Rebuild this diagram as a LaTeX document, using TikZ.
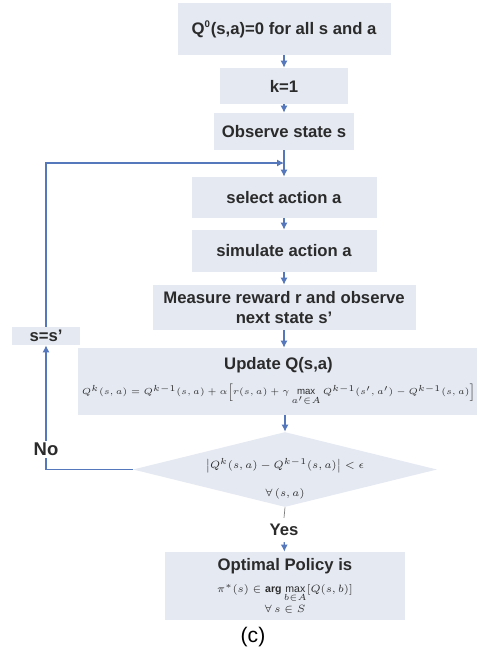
\documentclass[tikz,border=0pt]{standalone}
\usepackage{amsmath}
\usepackage{xcolor}
\usepackage{fontspec}
\setmainfont{Liberation Sans}
\usetikzlibrary{shapes.geometric, arrows.meta}
\definecolor{boxfill}{HTML}{E4E9F2}
\definecolor{flowline}{HTML}{5577BB}
\definecolor{boxtext}{HTML}{2B2B2B}

\begin{document}
\begin{tikzpicture}[
        yscale=1.0, xscale=1.0,
        stage/.style={font=\fontsize{9.5}{11.5}\selectfont\bfseries, text=boxtext, fill=boxfill, draw=none, align=center, inner sep=2pt},
        test/.style={shape=diamond, fill=boxfill, draw=none, inner sep=0pt, aspect=4, font=\fontsize{6}{7}\selectfont, text=boxtext},
        flow/.style={draw=flowline, semithick, -{Latex[length=1.4mm, width=1.4mm]}},
        wire/.style={draw=gray, thin},
        label/.style={font=\fontsize{9.5}{11.5}\selectfont\bfseries, text=boxtext}
    ]
    \useasboundingbox (0,0) rectangle (9.54,-13.1);

    % Main chain
    \node[stage, minimum width=4.26cm, minimum height=1.04cm] (init) at (5.68,-0.58) {Q\textsuperscript{\fontsize{5.5}{6}\selectfont 0}(s,a)=0 for all s and a};
    \node[stage, minimum width=2.56cm, minimum height=0.72cm] (kone) at (5.68,-1.72) {k=1};
    \node[stage, minimum width=2.80cm, minimum height=0.74cm] (observe) at (5.68,-2.63) {Observe state s};
    \node[stage, minimum width=3.70cm, minimum height=0.82cm] (select) at (5.68,-3.95) {select action a};
    \node[stage, minimum width=3.70cm, minimum height=0.84cm] (simulate) at (5.68,-5.02) {simulate action a};
    \node[stage, minimum width=5.26cm, minimum height=0.90cm] (measure) at (5.68,-6.15) {Measure reward r and observe\\next state s'};
    \node[stage, minimum width=7.94cm, minimum height=1.34cm] (update) at (5.57,-7.63) {Update Q(s,a)\\[3pt]
        {\fontsize{5.5}{7}\selectfont\mdseries $Q^{k}(s,a)=Q^{k-1}(s,a)+\alpha\Big[r(s,a)+\gamma\max\limits_{a'\in A}Q^{k-1}(s',a')-Q^{k-1}(s,a)\Big]$}};
    \node[test, minimum width=6.08cm, minimum height=1.50cm] (check) at (5.70,-9.39)
        {\raisebox{-0.25cm}[0pt][0pt]{\begin{tabular}{@{}c@{}}$\big|Q^{k}(s,a)-Q^{k-1}(s,a)\big|<\epsilon$\\[9pt]$\forall\,(s,a)$\end{tabular}}};
    \node[label] (yes) at (5.68,-10.60) {Yes};
    \node[stage, minimum width=4.80cm, minimum height=1.36cm] (optimal) at (5.70,-11.72) {Optimal Policy is\\[1pt]
        {\fontsize{6}{8}\selectfont\mdseries $\pi^{*}(s)\in\mathbf{arg}\max\limits_{b\in A}[Q(s,b)]$}\\
        {\fontsize{6}{7}\selectfont\mdseries $\forall\,s\in S$}};

    % Loop back
    \node[stage, minimum width=1.36cm, minimum height=0.36cm, inner sep=0pt] (sss) at (0.92,-6.72) {s=s'};
    \coordinate (join) at (5.68,-3.26);

    % Connectors
    \draw[flow] (init) -- (kone);
    \draw[flow] (kone) -- (observe);
    \draw[flow] (observe) -- (select);
    \draw[flow] (select) -- (simulate);
    \draw[flow] (simulate) -- (measure);
    \draw[flow] (measure.south) -- (measure.south |- update.north);
    \draw[flow] (update.south -| check) -- (check.north);
    \draw[wire] (check.south) -- (yes.north);
    \draw[flow] (yes) -- (optimal);
    \draw[flow] (check.west) -| (sss.south) node[pos=0.58, label, font=\fontsize{10.5}{12}\selectfont\bfseries, fill=white, inner sep=1pt] (no) {No};
    \draw[flow] (sss.north) |- (join);

    % Caption
    \node[font=\fontsize{12}{14}\selectfont] (caption) at (5.06,-12.74) {(c)};
\end{tikzpicture}
\end{document}
